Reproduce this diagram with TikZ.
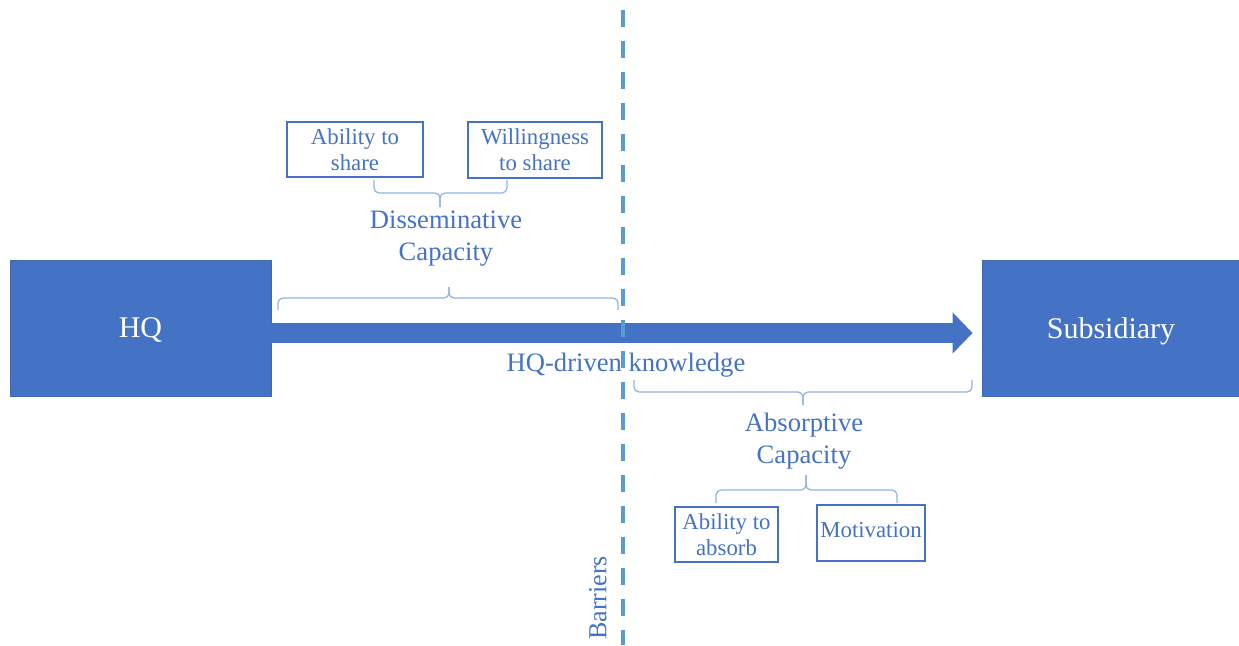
\documentclass[tikz,border=0pt]{standalone}
\usepackage{fontspec}
\setmainfont{Liberation Serif}
\usetikzlibrary{arrows.meta}
\definecolor{boxblue}{HTML}{4472C4}
\definecolor{boxedge}{HTML}{3F69B0}
\definecolor{txtblue}{HTML}{4472C4}
\definecolor{bracecol}{HTML}{8DB3E2}
\definecolor{dashcol}{HTML}{5B9BD5}
\tikzset{
  unit/.style={fill=boxblue, draw=boxedge, line width=0.8pt, text=white,
    inner sep=0pt, font=\fontsize{30}{34}\selectfont},
  factor/.style={draw=boxblue, line width=2pt, text=txtblue, inner sep=0pt,
    align=center, font=\fontsize{22.8}{26}\selectfont},
  label/.style={text=txtblue, align=center, inner sep=0pt,
    font=\fontsize{26.6}{32}\selectfont},
  curly/.style={draw=bracecol, line width=1.2pt, rounded corners=5pt},
  flow/.style={draw=boxblue, line width=20pt,
    -{Triangle[length=20pt,width=40pt]}},
  barrier/.style={draw=dashcol, line width=4pt, dash pattern=on 17pt off 14pt}
}
\begin{document}
\begin{tikzpicture}[x=1pt,y=-1pt]
\useasboundingbox (0,0) rectangle (1239,645);

% organisational units
\node[unit, minimum width=261pt, minimum height=136pt, text depth=0pt] (hq) at (140.5,328) {HQ};
\node[unit, minimum width=258pt, minimum height=136pt, text depth=0pt] (sub) at (1111,328) {Subsidiary};

% knowledge flow
\draw[flow] ([yshift=-5pt]hq.east) -- ([xshift=-9pt,yshift=-5pt]sub.west);
\node[label] (flowlbl) at (626,365) {HQ-driven knowledge};

% sender side
\node[factor, minimum width=136pt, minimum height=55pt] (ability) at (355,149.5) {Ability to\\share};
\node[factor, minimum width=134pt, minimum height=56pt] (willing) at (535,150) {Willingness\\to share};
\coordinate (b1l) at (374,180);
\coordinate (b1r) at (507,180);
\coordinate (b1m) at (440,193);
\coordinate (b1t) at (440,207);
\draw[curly] (b1l) |- (b1m) -- (b1t);
\draw[curly] (b1r) |- (b1m) -- (b1t);
\node[label] (dissem) at (446,239) {Disseminative\\Capacity};
\coordinate (b2l) at (278,310);
\coordinate (b2r) at (618,310);
\coordinate (b2m) at (449,298);
\coordinate (b2t) at (449,287);
\draw[curly] (b2l) |- (b2m) -- (b2t);
\draw[curly] (b2r) |- (b2m) -- (b2t);

% receiver side
\coordinate (b3l) at (634,380);
\coordinate (b3r) at (972,380);
\coordinate (b3m) at (803,392);
\coordinate (b3t) at (803,405);
\draw[curly] (b3l) |- (b3m) -- (b3t);
\draw[curly] (b3r) |- (b3m) -- (b3t);
\node[label] (absorp) at (804,441) {Absorptive\\Capacity};
\coordinate (b4l) at (716,503);
\coordinate (b4r) at (897,503);
\coordinate (b4m) at (806,490);
\coordinate (b4t) at (806,475);
\draw[curly] (b4l) |- (b4m) -- (b4t);
\draw[curly] (b4r) |- (b4m) -- (b4t);
\node[factor, minimum width=103pt, minimum height=55pt] (absorb) at (726.5,534.5) {Ability to\\absorb};
\node[factor, minimum width=108pt, minimum height=56pt, text depth=6pt] (motiv) at (871,533) {Motivation};

% barrier line
\node[label, rotate=90, font=\fontsize{26}{32}\selectfont] (barlbl) at (598,598) {Barriers};
\coordinate (btop) at (623,10);
\coordinate (bbot) at (623,645);
\draw[barrier] (btop) -- (bbot);
\end{tikzpicture}
\end{document}
